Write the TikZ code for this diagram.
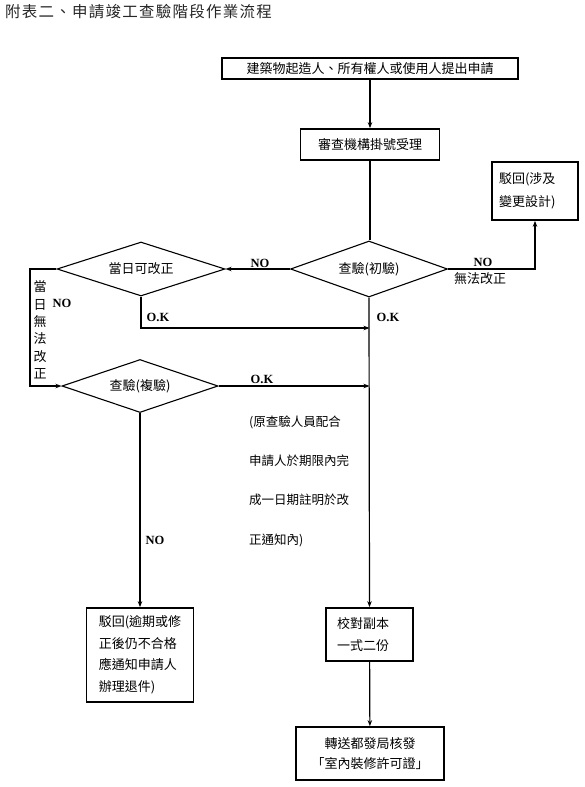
\documentclass[tikz,border=0pt]{standalone}
\usepackage{fontspec}
\setmainfont{Noto Sans CJK TC}
\newfontfamily\lat{Liberation Serif}
\usetikzlibrary{shapes.geometric,arrows.meta}
\begin{document}
\begin{tikzpicture}[x=1pt,y=-1pt,
  box/.style={draw,line width=1.7pt,inner sep=0pt,font=\fontsize{13}{14}\selectfont},
  dia/.style={draw,diamond,aspect=2.8,line width=1.1pt,inner sep=0pt,font=\fontsize{13}{14}\selectfont},
  conn/.style={line width=1.2pt},
  arr/.style={conn,-{Stealth[length=6pt,width=4.5pt]}},
  lbl/.style={font=\lat\bfseries\fontsize{12.5}{14}\selectfont,inner sep=0pt},
  txt/.style={font=\fontsize{13}{14}\selectfont,inner sep=0pt}]
\useasboundingbox (0,0) rectangle (585,787);

\node[anchor=west,inner sep=0pt,text=black!85,font=\addfontfeature{LetterSpace=8}\fontsize{15.5}{18}\selectfont] (title) at (5,12) {附表二、申請竣工查驗階段作業流程};

\node[box,minimum width=296pt,minimum height=21pt] (apply) at (370,68.5) {建築物起造人、所有權人或使用人提出申請};
\node[box,minimum width=139pt,minimum height=31pt] (reg) at (370,144.5) {審查機構掛號受理};
\node[dia,minimum width=157pt,minimum height=56pt] (d1) at (369,269) {查驗(初驗)};
\node[dia,minimum width=168pt,minimum height=54pt] (d2) at (141,269) {當日可改正};
\node[dia,minimum width=156pt,minimum height=53pt] (d3) at (140,386) {查驗(複驗)};
\node[box,minimum width=86pt,minimum height=58pt,text width=72pt,align=left,font=\fontsize{13}{23}\selectfont] (rej1) at (535,191) {駁回(涉及\\變更設計)};
\node[box,minimum width=107pt,minimum height=94pt,align=left,font=\fontsize{13}{21.5}\selectfont] (rej2) at (140,655) {駁回(逾期或修\\正後仍不合格\\應通知申請人\\辦理退件)};
\node[box,minimum width=87pt,minimum height=53pt,text width=65pt,align=left,font=\fontsize{13}{22}\selectfont] (copy) at (369.5,634.5) {校對副本\\一式二份};
\node[box,minimum width=148pt,minimum height=53pt,align=center,font=\fontsize{13}{20.5}\selectfont] (send) at (370,753.5) {轉送都發局核發\\「室內裝修許可證」};

\coordinate (okm) at (369.5,328);
\coordinate (lt) at (30,269);
\coordinate (lb) at (30,386);
\coordinate (okr) at (369.5,386);

\draw[arr] (apply) -- (reg);
\draw[conn] (reg.south) -- (reg.south |- d1.north);
\draw[arr] (d1.east) -| (rej1.south);
\draw[arr] (d1.west) -- (d2.east);
\draw[arr] (d2.south) |- (okm);
\draw[arr] (d2.west) -- (lt) -- (lb) -- (d3.west);
\draw[arr] (d3.east) -- (okr);
\draw[arr] (d1.south) -- (copy.north);
\draw[arr] (d3.south) -- (d3.south |- rej2.north);
\draw[arr] (copy) -- (send);

\node[lbl] (no1) at (260,263) {NO};
\node[lbl] (no2) at (483,262) {NO};
\node[txt] (nofix) at (480,279) {無法改正};
\node[lbl] (ok1) at (388,317) {O.K};
\node[lbl] (ok2) at (158,317) {O.K};
\node[lbl] (no3) at (62,303) {NO};
\node[txt,align=center,font=\fontsize{13}{17.3}\selectfont] (vert) at (40,330) {當\\日\\無\\法\\改\\正};
\node[lbl] (ok3) at (262,379) {O.K};
\node[txt,anchor=west,align=left,font=\fontsize{12.5}{39.3}\selectfont] (note) at (249,481) {(原查驗人員配合\\申請人於期限內完\\成一日期註明於改\\正通知內)};
\node[lbl] (no4) at (155,540) {NO};
\end{tikzpicture}
\end{document}
